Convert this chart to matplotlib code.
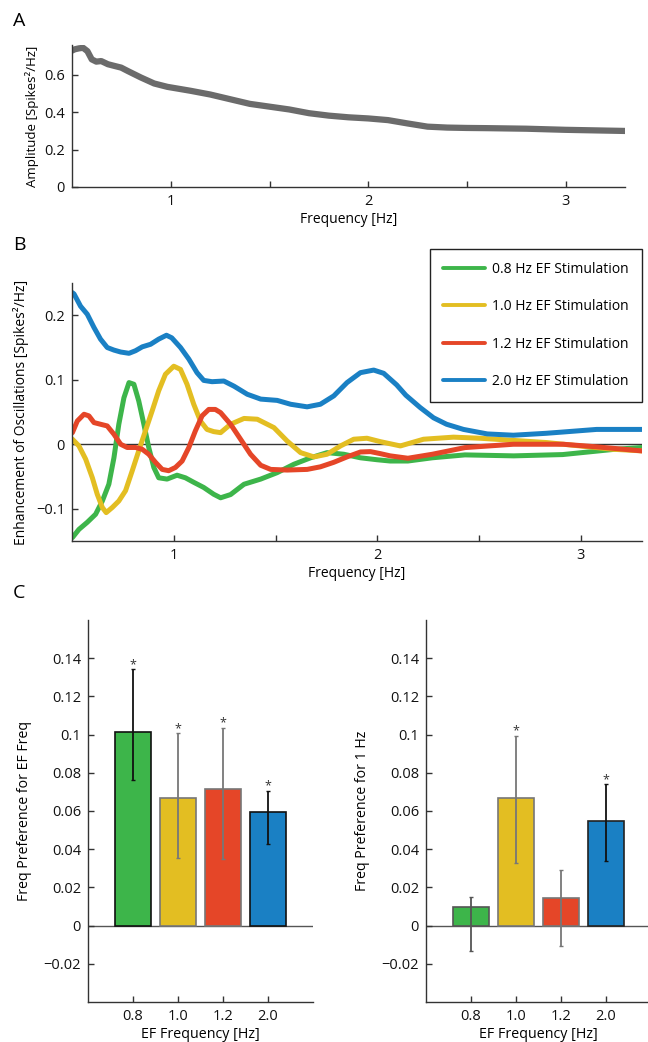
import matplotlib
matplotlib.use("Agg")
import matplotlib.pyplot as plt

plt.rcParams['font.family'] = ['Open Sans', 'DejaVu Sans']

# panel A: mean spectrum
freq_a = [0.5, 0.514, 0.535, 0.556, 0.578, 0.6, 0.623, 0.648, 0.682, 0.715, 0.749, 0.782, 0.849, 0.916, 0.983,
          1.05, 1.1, 1.2, 1.3, 1.4, 1.5, 1.6, 1.7, 1.8, 1.9, 2.0, 2.1, 2.2, 2.3, 2.4, 2.5, 2.6, 2.8, 3.0, 3.2, 3.3]
amp_a = [0.73, 0.737, 0.742, 0.745, 0.727, 0.683, 0.671, 0.674, 0.657, 0.648, 0.639, 0.621, 0.586, 0.554, 0.536,
         0.524, 0.515, 0.495, 0.47, 0.445, 0.43, 0.415, 0.395, 0.382, 0.373, 0.367, 0.358, 0.34, 0.323, 0.318,
         0.316, 0.315, 0.312, 0.306, 0.302, 0.30]

# panel B: enhancement of oscillations
green_f = [0.502, 0.534, 0.575, 0.616, 0.649, 0.681, 0.706, 0.73, 0.755, 0.78, 0.804, 0.828, 0.853, 0.877, 0.902,
           0.926, 0.967, 1.016, 1.057, 1.098, 1.147, 1.196, 1.23, 1.279, 1.345, 1.427, 1.508, 1.59, 1.672, 1.753,
           1.835, 1.917, 1.998, 2.063, 2.15, 2.27, 2.43, 2.67, 2.91, 3.16, 3.3]
green_v = [-0.1447, -0.132, -0.121, -0.1085, -0.088, -0.062, -0.021, 0.031, 0.072, 0.0956, 0.093, 0.067, 0.031,
           -0.005, -0.036, -0.052, -0.054, -0.048, -0.052, -0.059, -0.067, -0.0775, -0.083, -0.078, -0.062, -0.054,
           -0.044, -0.031, -0.021, -0.013, -0.0155, -0.021, -0.024, -0.026, -0.026, -0.021, -0.0165, -0.018,
           -0.016, -0.008, -0.005]
yellow_f = [0.502, 0.534, 0.567, 0.6, 0.624, 0.649, 0.668, 0.698, 0.73, 0.763, 0.796, 0.828, 0.861, 0.894, 0.926,
            0.959, 1.0, 1.033, 1.065, 1.098, 1.131, 1.163, 1.196, 1.23, 1.279, 1.345, 1.41, 1.492, 1.557, 1.623,
            1.688, 1.753, 1.819, 1.884, 1.949, 2.015, 2.113, 2.227, 2.374, 2.505, 2.668, 2.832, 2.995, 3.159, 3.3]
yellow_v = [0.0078, -0.0026, -0.023, -0.052, -0.0775, -0.098, -0.106, -0.098, -0.088, -0.072, -0.041, -0.010,
            0.021, 0.052, 0.083, 0.1085, 0.121, 0.116, 0.093, 0.062, 0.036, 0.023, 0.0196, 0.018, 0.031, 0.040,
            0.0388, 0.0258, 0.005, -0.013, -0.0196, -0.0155, -0.0026, 0.0078, 0.0093, 0.004, -0.0026, 0.0078,
            0.011, 0.0093, 0.006, 0.0026, -0.0026, -0.0078, -0.0103]
red_f = [0.502, 0.526, 0.559, 0.583, 0.608, 0.64, 0.673, 0.706, 0.739, 0.771, 0.812, 0.845, 0.877, 0.91, 0.943,
         0.975, 1.008, 1.041, 1.074, 1.106, 1.139, 1.172, 1.204, 1.23, 1.279, 1.328, 1.377, 1.427, 1.476, 1.557,
         1.655, 1.72, 1.786, 1.851, 1.917, 1.966, 2.014, 2.063, 2.15, 2.27, 2.43, 2.668, 2.913, 3.077, 3.3]
red_v = [0.018, 0.036, 0.0465, 0.044, 0.0336, 0.031, 0.0284, 0.0155, 0.0, -0.005, -0.005, -0.0078, -0.0155, -0.028,
         -0.039, -0.041, -0.036, -0.026, -0.005, 0.0207, 0.044, 0.054, 0.054, 0.049, 0.031, 0.0078, -0.0155,
         -0.0326, -0.039, -0.040, -0.039, -0.035, -0.028, -0.0196, -0.012, -0.0114, -0.0145, -0.018, -0.0217,
         -0.0155, -0.0052, 0.0, 0.0, -0.004, -0.0103]
blue_f = [0.502, 0.51, 0.542, 0.575, 0.608, 0.64, 0.673, 0.706, 0.739, 0.78, 0.812, 0.845, 0.886, 0.926, 0.964,
          0.99, 1.033, 1.074, 1.114, 1.147, 1.188, 1.246, 1.296, 1.361, 1.427, 1.508, 1.574, 1.655, 1.72, 1.786,
          1.851, 1.917, 1.982, 2.031, 2.063, 2.095, 2.14, 2.21, 2.276, 2.34, 2.423, 2.54, 2.668, 2.83, 2.913,
          3.077, 3.3]
blue_v = [0.235, 0.233, 0.214, 0.2016, 0.181, 0.163, 0.150, 0.146, 0.143, 0.141, 0.145, 0.151, 0.155, 0.163,
          0.169, 0.165, 0.150, 0.132, 0.111, 0.099, 0.097, 0.098, 0.090, 0.0775, 0.070, 0.068, 0.062, 0.058,
          0.062, 0.075, 0.0956, 0.111, 0.115, 0.110, 0.101, 0.092, 0.076, 0.057, 0.041, 0.031, 0.023, 0.016,
          0.014, 0.017, 0.019, 0.023, 0.023]
stim_labels = ['0.8 Hz EF Stimulation', '1.0 Hz EF Stimulation', '1.2 Hz EF Stimulation', '2.0 Hz EF Stimulation']

# panel C: frequency preference bars
ef_freqs = ['0.8', '1.0', '1.2', '2.0']
pref_ef = [0.1016, 0.067, 0.0715, 0.0594]
pref_ef_lo = [0.0761, 0.0356, 0.0348, 0.0425]
pref_ef_hi = [0.1343, 0.1007, 0.1037, 0.0706]
pref_ef_sig = [True, True, True, True]
pref_1hz = [0.0095, 0.067, 0.0145, 0.0548]
pref_1hz_lo = [-0.0134, 0.033, -0.0108, 0.034]
pref_1hz_hi = [0.015, 0.0994, 0.029, 0.074]
pref_1hz_sig = [False, True, False, True]

colors = ['#3db54a', '#e3be22', '#e54628', '#1a80c4']

fig = plt.figure(figsize=(6.48, 10.42), dpi=100)
W, H = 648.0, 1042.0


def px_axes(l, t, r, b):
    return fig.add_axes([l / W, 1 - b / H, (r - l) / W, (b - t) / H])


def style(ax):
    for s in ['top', 'right']:
        ax.spines[s].set_visible(False)
    for s in ['left', 'bottom']:
        ax.spines[s].set_color('#333333')
        ax.spines[s].set_linewidth(1.0)
    ax.tick_params(direction='in', length=4, width=1, color='#333333', labelsize=10.5, pad=5,
                   labelcolor='#111111')


# ---- A ----
ax_a = px_axes(72, 45, 625, 187)
ax_a.plot(freq_a, amp_a, color='#6b6b6b', lw=4.5, solid_capstyle='round')
ax_a.set_xlim(0.5, 3.3)
ax_a.set_ylim(0, 0.76)
ax_a.set_xticks([1, 1.5, 2, 2.5, 3])
ax_a.set_xticklabels(['1', '', '2', '', '3'])
ax_a.set_yticks([0, 0.2, 0.4, 0.6])
ax_a.set_yticklabels(['0', '0.2', '0.4', '0.6'])
ax_a.set_xlabel('Frequency [Hz]', fontsize=10, labelpad=2)
ax_a.set_ylabel('Amplitude [Spikes²/Hz]', fontsize=9.5, labelpad=4)
style(ax_a)
fig.text(13 / W, 1 - 21 / H, 'A', fontsize=14, va='center', ha='left')

# ---- B ----
ax_b = px_axes(72, 283, 642, 541)
ax_b.axhline(0, color='#333333', lw=1)
for f, v, c, lab in zip([green_f, yellow_f, red_f, blue_f], [green_v, yellow_v, red_v, blue_v], colors, stim_labels):
    ax_b.plot(f, v, color=c, lw=3.6, label=lab, solid_capstyle='round', solid_joinstyle='round')
ax_b.set_xlim(0.5, 3.3)
ax_b.set_ylim(-0.15, 0.25)
ax_b.set_xticks([1, 1.5, 2, 2.5, 3])
ax_b.set_xticklabels(['1', '', '2', '', '3'])
ax_b.set_yticks([-0.1, 0, 0.1, 0.2])
ax_b.set_yticklabels(['\u22120.1', '0', '0.1', '0.2'])
ax_b.set_xlabel('Frequency [Hz]', fontsize=10, labelpad=2)
ax_b.set_ylabel('Enhancement of Oscillations [Spikes²/Hz]', fontsize=10, labelpad=5)
style(ax_b)
leg = ax_b.legend(loc='upper right', bbox_to_anchor=(1.0, 1.132), fontsize=10, frameon=True,
                  fancybox=False, edgecolor='#222222', framealpha=1, handlelength=3.0,
                  labelspacing=1.6, borderpad=0.95, handletextpad=0.55, borderaxespad=0)
leg.get_frame().set_linewidth(1.0)
for line in leg.get_lines():
    line.set_linewidth(2.8)
fig.text(13 / W, 1 - 245 / H, 'B', fontsize=14, va='center', ha='left')


# ---- C ----
def bar_panel(ax, vals, lo, hi, sig, edge, errc, ylabel):
    x = [1, 2, 3, 4]
    ax.axhline(0, color='#555555', lw=1, zorder=1)
    ax.bar(x, vals, width=0.82, color=colors, edgecolor=edge, linewidth=1.2, zorder=2)
    for xi, v, l, h, ec in zip(x, vals, lo, hi, errc):
        ax.errorbar(xi, v, yerr=[[v - l], [h - v]], color=ec, lw=1.3, capsize=1.5, zorder=3)
    for xi, h, s in zip(x, hi, sig):
        if s:
            ax.text(xi, h - 0.001, '*', ha='center', va='bottom', fontsize=9, color='#333333')
    ax.set_xlim(0, 5)
    ax.set_ylim(-0.04, 0.16)
    ax.set_xticks(x)
    ax.set_xticklabels(ef_freqs)
    yt = [-0.02, 0, 0.02, 0.04, 0.06, 0.08, 0.1, 0.12, 0.14]
    ax.set_yticks(yt)
    ax.set_yticklabels(['\u22120.02', '0', '0.02', '0.04', '0.06', '0.08', '0.1', '0.12', '0.14'])
    ax.set_xlabel('EF Frequency [Hz]', fontsize=10.3, labelpad=2)
    ax.set_ylabel(ylabel, fontsize=10.2, labelpad=8)
    style(ax)


ax_c1 = px_axes(88, 620, 313, 1002)
bar_panel(ax_c1, pref_ef, pref_ef_lo, pref_ef_hi, pref_ef_sig,
          ['#111111', '#777777', '#777777', '#111111'],
          ['#111111', '#777777', '#777777', '#111111'], 'Freq Preference for EF Freq')
ax_c2 = px_axes(426, 620, 651, 1002)
bar_panel(ax_c2, pref_1hz, pref_1hz_lo, pref_1hz_hi, pref_1hz_sig,
          ['#555555', '#777777', '#777777', '#222222'],
          ['#555555', '#777777', '#777777', '#111111'], 'Freq Preference for 1 Hz')
fig.text(13 / W, 1 - 593 / H, 'C', fontsize=14, va='center', ha='left')

fig.savefig('out.png', dpi=100)
